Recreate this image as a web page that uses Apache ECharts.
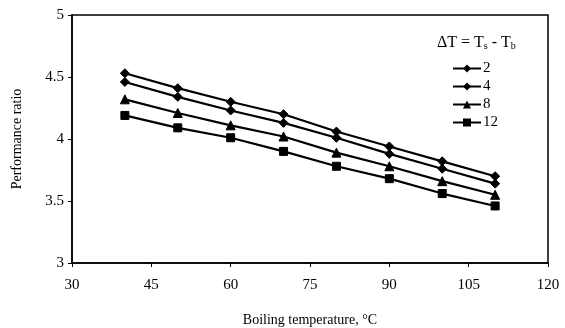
<!DOCTYPE html>
<html>
<head>
<meta charset="utf-8">
<script src="https://cdn.jsdelivr.net/npm/echarts@6/dist/echarts.min.js"></script>
<style>
  html, body { margin: 0; padding: 0; background: #fff; }
  #chart { width: 565px; height: 328px; }
</style>
</head>
<body>
<div id="chart"></div>
<script>
// Boiling temperatures (°C) on the x axis
const boilingTemps = [40, 50, 60, 70, 80, 90, 100, 110];

// Performance ratio for each temperature difference ΔT
const dt2  = [4.53, 4.41, 4.30, 4.20, 4.06, 3.94, 3.82, 3.70];
const dt4  = [4.46, 4.34, 4.23, 4.13, 4.01, 3.88, 3.76, 3.64];
const dt8  = [4.32, 4.21, 4.11, 4.02, 3.89, 3.78, 3.66, 3.55];
const dt12 = [4.19, 4.09, 4.01, 3.90, 3.78, 3.68, 3.56, 3.46];

const seriesNames = ['2', '4', '8', '12'];
const seriesValues = [dt2, dt4, dt8, dt12];
const seriesSymbols = ['diamond', 'diamond', 'triangle', 'rect'];
const seriesSymbolSizes = [9, 9, 9, 8];

const FONT = '"Liberation Serif", "DejaVu Serif", serif';

const chart = echarts.init(document.getElementById('chart'));

chart.setOption({
  animation: false,
  backgroundColor: '#fff',
  textStyle: { fontFamily: FONT, color: '#000' },
  grid: {
    left: 72, right: 17, top: 15, bottom: 65,
    outerBoundsMode: 'none',
    containLabel: false,
    show: true, borderColor: '#000', borderWidth: 1.5
  },
  title: {
    text: 'ΔT = T{sub|s} - T{sub|b}',
    left: 432, top: 29,
    textStyle: {
      fontFamily: FONT, fontSize: 16, fontWeight: 'normal', color: '#000',
      rich: {
        sub: { fontFamily: FONT, fontSize: 10, verticalAlign: 'bottom', padding: [7, 0, 0, 0], color: '#000' }
      }
    }
  },
  legend: {
    orient: 'vertical',
    left: 447, top: 56,
    itemWidth: 28, itemHeight: 10, itemGap: 3,
    textStyle: { fontFamily: FONT, fontSize: 15, lineHeight: 14, color: '#000', padding: [0, 0, 0, -3] },
    data: seriesNames
  },
  xAxis: {
    type: 'value',
    min: 30, max: 120, interval: 15,
    name: 'Boiling temperature, °C',
    nameLocation: 'middle', nameGap: 50,
    nameTextStyle: { fontFamily: FONT, fontSize: 14, color: '#000' },
    axisLine: { lineStyle: { color: '#000', width: 1.5 } },
    axisTick: { show: true, length: 4, lineStyle: { color: '#000' } },
    axisLabel: { fontFamily: FONT, fontSize: 15, color: '#000', margin: 15 },
    splitLine: { show: false }
  },
  yAxis: {
    type: 'value',
    min: 3, max: 5, interval: 0.5,
    name: 'Performance ratio',
    nameLocation: 'middle', nameGap: 48,
    nameTextStyle: { fontFamily: FONT, fontSize: 14, color: '#000' },
    axisLine: { show: true, lineStyle: { color: '#000', width: 1.5 } },
    axisTick: { show: true, length: 4, lineStyle: { color: '#000' } },
    axisLabel: { fontFamily: FONT, fontSize: 15, color: '#000', margin: 8 },
    splitLine: { show: false }
  },
  series: seriesNames.map((name, i) => ({
    name: name,
    type: 'line',
    data: boilingTemps.map((t, j) => [t, seriesValues[i][j]]),
    symbol: seriesSymbols[i],
    symbolSize: seriesSymbolSizes[i],
    showAllSymbol: true,
    lineStyle: { color: '#000', width: 2.2 },
    itemStyle: { color: '#000', borderColor: '#000' }
  }))
});
</script>
</body>
</html>
